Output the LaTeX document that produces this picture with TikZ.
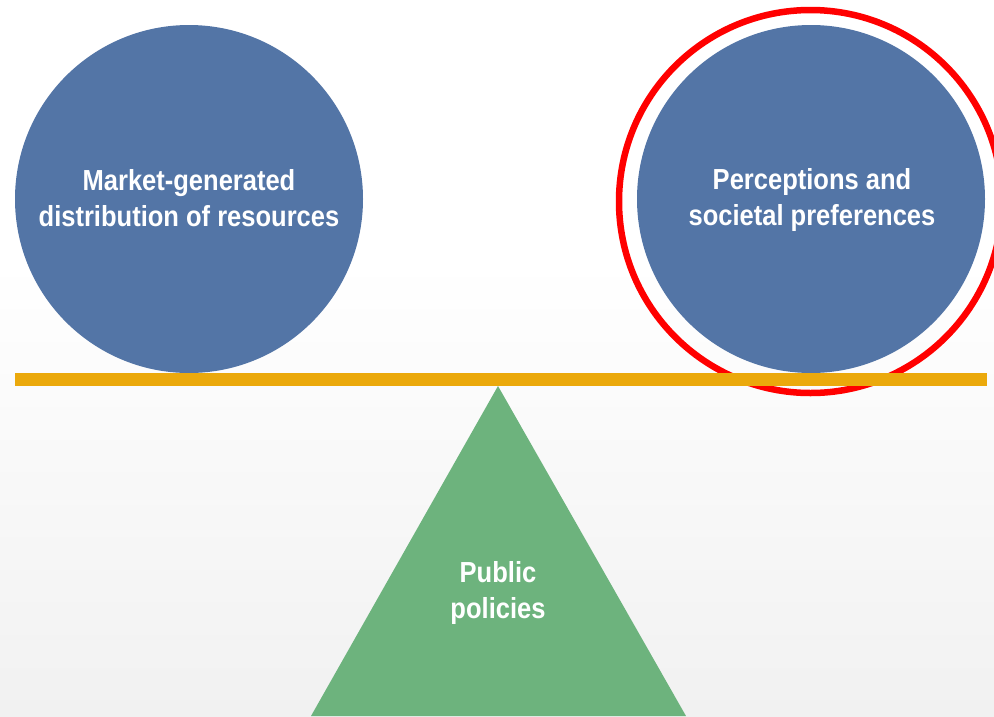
\documentclass[tikz,border=0pt]{standalone}
\usepackage{fontspec}
\setmainfont{Liberation Sans}[FakeStretch=0.88]
\definecolor{discblue}{HTML}{5375A6}
\definecolor{beamgold}{HTML}{EBA90C}
\definecolor{pivotgreen}{HTML}{6DB37D}
\definecolor{ringred}{HTML}{FF0000}
\definecolor{floorgray}{HTML}{F1F1F1}
\begin{document}
\begin{tikzpicture}[x=1pt,y=-1pt,
  disc/.style={circle, fill=discblue, minimum size=348pt, inner sep=0pt},
  label/.style={text=white, font=\bfseries\fontsize{29}{36}\selectfont, align=center},
]
\useasboundingbox (0,0) rectangle (994,716);
% backdrop: white fading into a light gray floor
\fill[white] (0,0) rectangle (994,716);
\shade[top color=white, bottom color=floorgray] (0,260) rectangle (994,716);

% the two weights
\node[disc] (market) at (189,199) {};
\node[disc] (percep) at (811,199) {};

% ring marking the right weight
\draw[ringred, line width=6.5pt] (810.5,201.5) circle (191.5);

% beam
\fill[beamgold] (15,373) rectangle (987,386);

% fulcrum
\coordinate (apex) at (498,386);
\coordinate (baseL) at (311,716);
\coordinate (baseR) at (686,716);
\fill[pivotgreen] (apex) -- (baseR) -- (baseL) -- cycle;

% labels
\node[label] (marketlbl) at (189,198) {Market-generated\\distribution of resources};
\node[label] (perceplbl) at (812,200) {Perceptions and\\societal preferences};
\node[label] (policylbl) at (498,593) {Public\\policies};
\end{tikzpicture}
\end{document}
